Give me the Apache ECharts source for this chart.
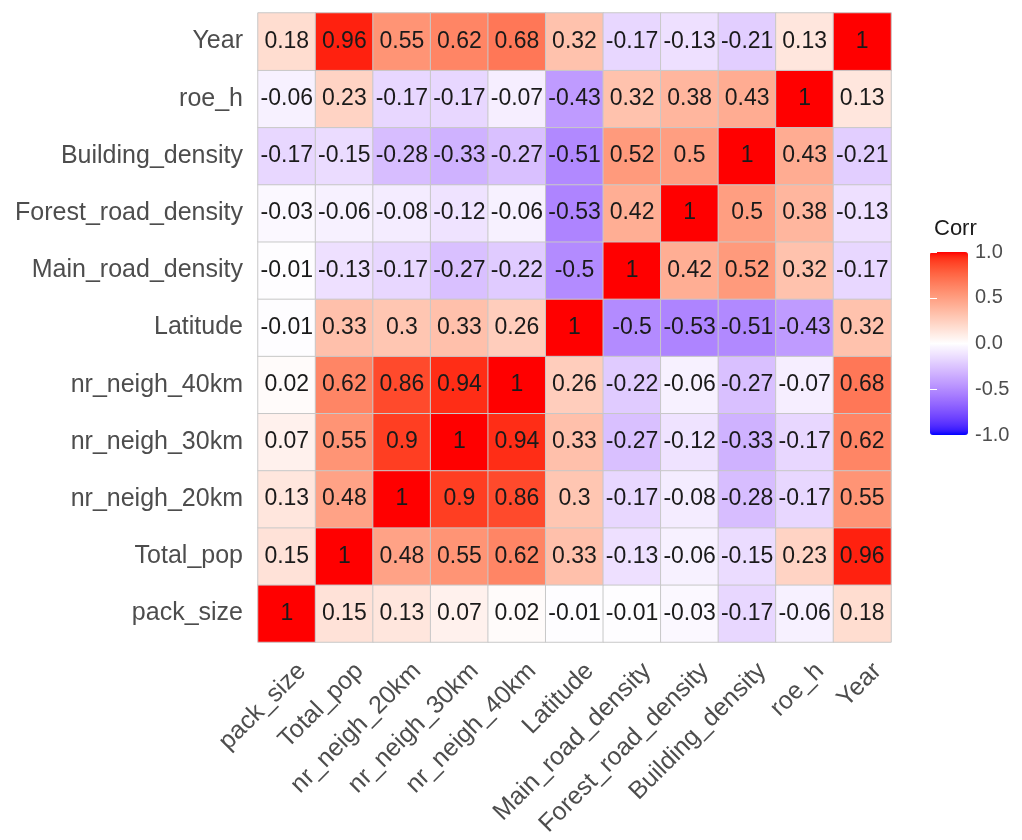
<!DOCTYPE html>
<html>
<head>
<meta charset="utf-8">
<script src="https://cdn.jsdelivr.net/npm/echarts@6/dist/echarts.min.js"></script>
<style>
html,body{margin:0;padding:0;background:#fff;}
#chart{width:1022px;height:840px;}
</style>
</head>
<body>
<div id="chart"></div>
<script>
// Variables (x axis left->right, y axis bottom->top)
var variables = ['pack_size','Total_pop','nr_neigh_20km','nr_neigh_30km','nr_neigh_40km','Latitude','Main_road_density','Forest_road_density','Building_density','roe_h','Year'];

// Correlation rows, one per variable, columns in the same order as variables
var r_pack_size  = [1, 0.15, 0.13, 0.07, 0.02, -0.01, -0.01, -0.03, -0.17, -0.06, 0.18];
var r_total_pop  = [0.15, 1, 0.48, 0.55, 0.62, 0.33, -0.13, -0.06, -0.15, 0.23, 0.96];
var r_nr20       = [0.13, 0.48, 1, 0.9, 0.86, 0.3, -0.17, -0.08, -0.28, -0.17, 0.55];
var r_nr30       = [0.07, 0.55, 0.9, 1, 0.94, 0.33, -0.27, -0.12, -0.33, -0.17, 0.62];
var r_nr40       = [0.02, 0.62, 0.86, 0.94, 1, 0.26, -0.22, -0.06, -0.27, -0.07, 0.68];
var r_latitude   = [-0.01, 0.33, 0.3, 0.33, 0.26, 1, -0.5, -0.53, -0.51, -0.43, 0.32];
var r_main_road  = [-0.01, -0.13, -0.17, -0.27, -0.22, -0.5, 1, 0.42, 0.52, 0.32, -0.17];
var r_forest_road= [-0.03, -0.06, -0.08, -0.12, -0.06, -0.53, 0.42, 1, 0.5, 0.38, -0.13];
var r_building   = [-0.17, -0.15, -0.28, -0.33, -0.27, -0.51, 0.52, 0.5, 1, 0.43, -0.21];
var r_roe_h      = [-0.06, 0.23, -0.17, -0.17, -0.07, -0.43, 0.32, 0.38, 0.43, 1, 0.13];
var r_year       = [0.18, 0.96, 0.55, 0.62, 0.68, 0.32, -0.17, -0.13, -0.21, 0.13, 1];

var legendTicks = [-1.0, -0.5, 0.0, 0.5, 1.0];

var rows = [r_pack_size, r_total_pop, r_nr20, r_nr30, r_nr40, r_latitude, r_main_road, r_forest_road, r_building, r_roe_h, r_year];

var data = [];
for (var yi = 0; yi < rows.length; yi++) {
  for (var xi = 0; xi < rows[yi].length; xi++) {
    data.push([xi, yi, rows[yi][xi]]);
  }
}

// Lab interpolation (like ggplot2 scale_fill_gradient2)
function toLin(c){c/=255;return c<=0.04045?c/12.92:Math.pow((c+0.055)/1.055,2.4);}
function fromLin(c){c=c<=0.0031308?12.92*c:1.055*Math.pow(c,1/2.4)-0.055;return Math.round(Math.max(0,Math.min(1,c))*255);}
var Xn=0.95047,Yn=1,Zn=1.08883;
function f(t){return t>0.008856?Math.cbrt(t):7.787*t+16/116;}
function finv(t){var t3=t*t*t;return t3>0.008856?t3:(t-16/116)/7.787;}
function rgb2lab(rgb){
  var r=toLin(rgb[0]),g=toLin(rgb[1]),b=toLin(rgb[2]);
  var X=0.4124564*r+0.3575761*g+0.1804375*b;
  var Y=0.2126729*r+0.7151522*g+0.0721750*b;
  var Z=0.0193339*r+0.1191920*g+0.9503041*b;
  var fx=f(X/Xn),fy=f(Y/Yn),fz=f(Z/Zn);
  return [116*fy-16,500*(fx-fy),200*(fy-fz)];
}
function lab2rgb(lab){
  var fy=(lab[0]+16)/116,fx=fy+lab[1]/500,fz=fy-lab[2]/200;
  var X=Xn*finv(fx),Y=Yn*finv(fy),Z=Zn*finv(fz);
  var r=3.2404542*X-1.5371385*Y-0.4985314*Z;
  var g=-0.9692660*X+1.8760108*Y+0.0415560*Z;
  var b=0.0556434*X-0.2040259*Y+1.0572252*Z;
  return 'rgb('+fromLin(r)+','+fromLin(g)+','+fromLin(b)+')';
}
var labLow=rgb2lab([0,0,255]),labMid=rgb2lab([255,255,255]),labHigh=rgb2lab([255,0,0]);
var stops=[];
var N=40;
for(var i=0;i<=N;i++){
  var v=-1+2*i/N, a, b, t;
  if(v<0){a=labMid;b=labLow;t=-v;}else{a=labMid;b=labHigh;t=v;}
  stops.push(lab2rgb([a[0]+(b[0]-a[0])*t,a[1]+(b[1]-a[1])*t,a[2]+(b[2]-a[2])*t]));
}

var FONT = '"Liberation Sans", Arial, sans-serif';
var chart = echarts.init(document.getElementById('chart'), null, {renderer:'canvas'});
chart.setOption({
  backgroundColor:'#ffffff',
  animation:false,
  textStyle:{fontFamily:FONT},
  title:{text:'Corr',left:929,top:213,textStyle:{fontSize:22,fontWeight:'normal',color:'#1a1a1a',fontFamily:FONT}},
  grid:[
    {left:258,right:131,top:13,bottom:198,containLabel:false},
    {left:930,top:252,width:38,height:183}
  ],
  xAxis:[
    {type:'category',data:variables,gridIndex:0,
     axisLine:{show:false},axisTick:{show:false},splitLine:{show:false},
     axisLabel:{rotate:45,interval:0,fontSize:25,color:'#4d4d4d',margin:10,verticalAlign:'top',padding:[9,0,0,0],fontFamily:FONT}},
    {type:'value',gridIndex:1,show:false,min:0,max:1}
  ],
  yAxis:[
    {type:'category',data:variables,gridIndex:0,
     axisLine:{show:false},axisTick:{show:false},splitLine:{show:false},
     axisLabel:{interval:0,fontSize:25,color:'#4d4d4d',margin:15,fontFamily:FONT}},
    {type:'value',gridIndex:1,position:'right',min:legendTicks[0],max:legendTicks[legendTicks.length-1],interval:0.5,z:10,
     axisLine:{show:false},splitLine:{show:false},
     axisTick:{show:true,inside:true,length:7,lineStyle:{color:'#ffffff',width:1}},
     axisLabel:{fontSize:20,color:'#4d4d4d',margin:7,fontFamily:FONT,formatter:function(v){return v.toFixed(1);}}},
    {type:'value',gridIndex:1,position:'left',min:legendTicks[0],max:legendTicks[legendTicks.length-1],interval:0.5,z:10,
     axisLine:{show:false},splitLine:{show:false},axisLabel:{show:false},
     axisTick:{show:true,inside:true,length:7,lineStyle:{color:'#ffffff',width:1}}}
  ],
  visualMap:{
    type:'continuous',min:-1,max:1,seriesIndex:0,calculable:false,
    orient:'vertical',left:930,top:252,itemWidth:38,itemHeight:183,padding:0,
    text:null,showLabel:false,
    inRange:{color:stops}
  },
  series:[{
    type:'heatmap',xAxisIndex:0,yAxisIndex:0,data:data,
    label:{show:true,fontSize:23,color:'#1a1a1a',fontFamily:FONT,formatter:function(p){return String(p.value[2]);}},
    itemStyle:{borderColor:'#c8c8c8',borderWidth:1},
    emphasis:{disabled:true}
  }]
});
</script>
</body>
</html>
